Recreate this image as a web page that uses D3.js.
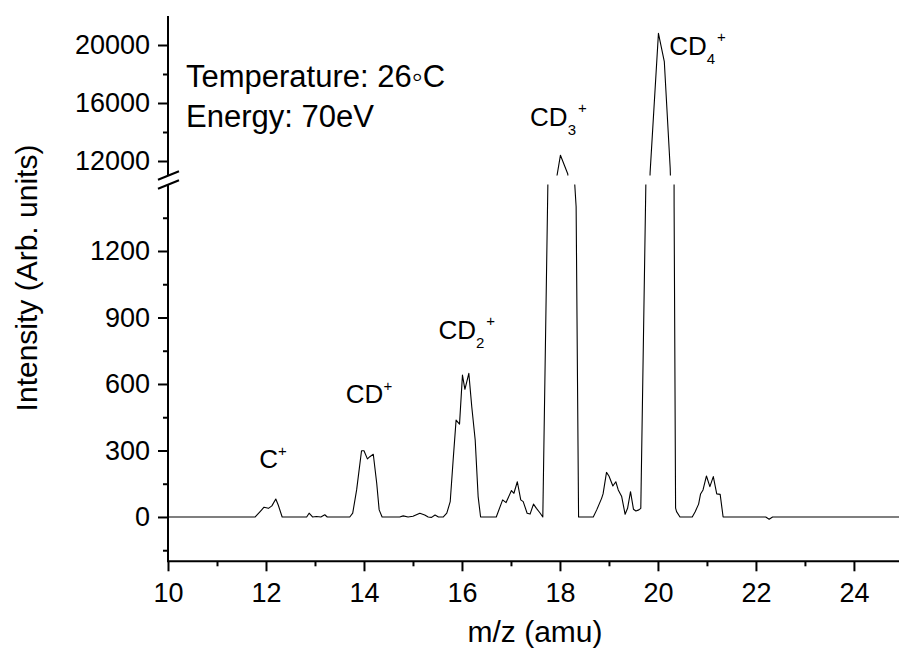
<!DOCTYPE html>
<html>
<head>
<meta charset="utf-8">
<script src="https://cdn.jsdelivr.net/npm/d3@7"></script>
<style>
  html, body { margin: 0; padding: 0; background: #fff; }
  svg { display: block; font-family: "Liberation Sans", Arial, sans-serif; }
</style>
</head>
<body>
<svg id="chart" width="899" height="657"></svg>
<script>
// ---- data ----
const mz = [10, 11.78, 11.88, 11.96, 12.05, 12.12, 12.20, 12.25, 12.33, 12.83, 12.88, 12.95, 13.03, 13.12, 13.20, 13.25,
  13.71, 13.77, 13.85, 13.95, 14.00, 14.07, 14.12, 14.19, 14.26, 14.31, 14.37, 14.73, 14.80, 14.90, 15.00, 15.14,
  15.24, 15.31, 15.38, 15.45, 15.52, 15.62, 15.69, 15.76, 15.82, 15.88, 15.95, 16.01, 16.06, 16.14, 16.20, 16.27,
  16.33, 16.38, 16.70, 16.83, 16.90, 17.01, 17.06, 17.13, 17.20, 17.25, 17.33, 17.39, 17.46, 17.52, 17.59, 17.65,
  17.76, 17.93, 18.01, 18.16, 18.26, 18.33, 18.38, 18.68, 18.75, 18.85, 18.88, 18.95, 19.00, 19.08, 19.14, 19.19,
  19.26, 19.33, 19.38, 19.44, 19.50, 19.55, 19.61, 19.65, 19.76, 19.84, 20.01, 20.13, 20.25, 20.33, 20.36, 20.38,
  20.45, 20.70, 20.76, 20.83, 20.87, 20.92, 20.99, 21.06, 21.13, 21.20, 21.27, 21.33, 22.20, 22.27, 22.34, 24.92];
const intensity = [0, 0, 24, 44, 39, 50, 81, 54, 0, 0, 17, 0, 2, 0, 10, 0,
  0, 17, 122, 299, 299, 262, 272, 283, 152, 32, 0, 0, 5, 0, 3, 17,
  9, 0, -2, 9, 0, 0, 17, 69, 257, 437, 419, 640, 576, 648, 497, 347,
  92, 0, 0, 77, 65, 119, 107, 159, 77, 69, 17, 13, 58, 39, 19, 0,
  1600, 10800, 12400, 11100, 1650, 1400, 0, 0, 32, 84, 104, 201, 185, 140, 159, 122,
  92, 12, 39, 114, 35, 27, 32, 39, 1600, 11200, 20800, 18850, 11500, 1400, 40, 24,
  0, 0, 24, 58, 104, 122, 185, 137, 182, 104, 102, 0, 0, -10, 0, 0];

const xTicks = [10, 12, 14, 16, 18, 20, 22, 24];
const xMinorTicks = [11, 13, 15, 17, 19, 21, 23];
const yLowTicks = [0, 300, 600, 900, 1200];
const yLowMinor = [-150, 150, 450, 750, 1050, 1350];
const yHighTicks = [12000, 16000, 20000];
const yHighMinor = [14000, 18000];

const peakBase = ["C", "CD", "CD", "CD", "CD"];
const peakSub = ["", "", "2", "3", "4"];
const peakSup = ["+", "+", "+", "+", "+"];
const peakMz = [11.86, 13.63, 15.52, 17.39, 20.23];
const peakVal = [221, 514, 802, 14414, 19310];

const infoLines = ["Temperature: 26\u25E6C", "Energy: 70eV"];

// ---- layout ----
const svg = d3.select("#chart");
const x = d3.scaleLinear().domain([10, 24.92]).range([168, 899]);
const yLow = d3.scaleLinear().domain([-200, 1500]).range([561.3, 184.5]);
const yHigh = d3.scaleLinear().domain([11000, 22000]).range([175.5, 16]);
const FONT = '"Liberation Sans", Arial, sans-serif';

const defs = svg.append("defs");
defs.append("clipPath").attr("id", "clipLow").append("rect")
  .attr("x", 168).attr("y", yLow(1500)).attr("width", 899 - 168).attr("height", yLow(-200) - yLow(1500));
defs.append("clipPath").attr("id", "clipHigh").append("rect")
  .attr("x", 168).attr("y", yHigh(22000)).attr("width", 899 - 168).attr("height", yHigh(11000) - yHigh(22000));

const pts = mz.map((m, i) => [m, intensity[i]]);
const lineLow = d3.line().x(d => x(d[0])).y(d => yLow(d[1]));
const lineHigh = d3.line().x(d => x(d[0])).y(d => yHigh(d[1]));

svg.append("path").attr("clip-path", "url(#clipLow)").attr("d", lineLow(pts))
  .attr("fill", "none").attr("stroke", "#000").attr("stroke-width", 1.1).attr("stroke-linejoin", "round");
svg.append("path").attr("clip-path", "url(#clipHigh)").attr("d", lineHigh(pts))
  .attr("fill", "none").attr("stroke", "#000").attr("stroke-width", 1.1).attr("stroke-linejoin", "round");

// ---- axes ----
function styleAxis(g) {
  g.selectAll(".domain").remove();
  g.selectAll(".tick line").attr("stroke", "#000").attr("stroke-width", 2);
  g.selectAll(".tick text").attr("fill", "#000").attr("font-size", 27).attr("font-family", FONT);
}
const fmt = d3.format("d");

const xAxisY = yLow(-200);
svg.append("g").attr("transform", `translate(0,${xAxisY})`)
  .call(d3.axisBottom(x).tickValues(xTicks).tickSize(10).tickPadding(12).tickFormat(fmt)).call(styleAxis);
svg.append("g").attr("transform", `translate(0,${xAxisY})`)
  .call(d3.axisBottom(x).tickValues(xMinorTicks).tickSize(5).tickFormat("")).call(styleAxis);

svg.append("g").attr("transform", "translate(168,0)")
  .call(d3.axisLeft(yLow).tickValues(yLowTicks).tickSize(10).tickPadding(8).tickFormat(fmt)).call(styleAxis);
svg.append("g").attr("transform", "translate(168,0)")
  .call(d3.axisLeft(yLow).tickValues(yLowMinor).tickSize(5).tickFormat("")).call(styleAxis);
svg.append("g").attr("transform", "translate(168,0)")
  .call(d3.axisLeft(yHigh).tickValues(yHighTicks).tickSize(10).tickPadding(8).tickFormat(fmt)).call(styleAxis);
svg.append("g").attr("transform", "translate(168,0)")
  .call(d3.axisLeft(yHigh).tickValues(yHighMinor).tickSize(5).tickFormat("")).call(styleAxis);

// axis lines
svg.append("line").attr("x1", 168).attr("x2", 899).attr("y1", xAxisY).attr("y2", xAxisY)
  .attr("stroke", "#000").attr("stroke-width", 2);
svg.append("line").attr("x1", 168).attr("x2", 168).attr("y1", yHigh(22000)).attr("y2", yHigh(11000))
  .attr("stroke", "#000").attr("stroke-width", 2);
svg.append("line").attr("x1", 168).attr("x2", 168).attr("y1", yLow(1500)).attr("y2", xAxisY + 1)
  .attr("stroke", "#000").attr("stroke-width", 2);
// break marks
[yHigh(11000), yLow(1500)].forEach(yy => {
  svg.append("line").attr("x1", 158).attr("x2", 179).attr("y1", yy + 4.3).attr("y2", yy - 4.3)
    .attr("stroke", "#000").attr("stroke-width", 2);
});

// axis titles
svg.append("text").attr("x", 535).attr("y", 642).attr("text-anchor", "middle")
  .attr("font-size", 30).attr("font-family", FONT).text("m/z (amu)");
svg.append("text").attr("transform", "translate(37,278) rotate(-90)").attr("text-anchor", "middle")
  .attr("font-size", 30).attr("font-family", FONT).text("Intensity (Arb. units)");

// info text
infoLines.forEach((t, i) => {
  svg.append("text").attr("x", 186).attr("y", 87 + i * 40)
    .attr("font-size", 31).attr("font-family", FONT).text(t);
});

// peak labels
peakBase.forEach((b, i) => {
  const yy = peakVal[i] > 5000 ? yHigh(peakVal[i]) : yLow(peakVal[i]);
  const t = svg.append("text").attr("x", x(peakMz[i])).attr("y", yy)
    .attr("font-size", 26).attr("font-family", FONT);
  t.append("tspan").text(b);
  if (peakSub[i]) {
    t.append("tspan").attr("font-size", 15).attr("dy", 9).text(peakSub[i]);
    t.append("tspan").attr("font-size", 15).attr("dx", 2).attr("dy", -22).text(peakSup[i]);
  } else {
    t.append("tspan").attr("font-size", 15).attr("dy", -12).text(peakSup[i]);
  }
});
</script>
</body>
</html>
